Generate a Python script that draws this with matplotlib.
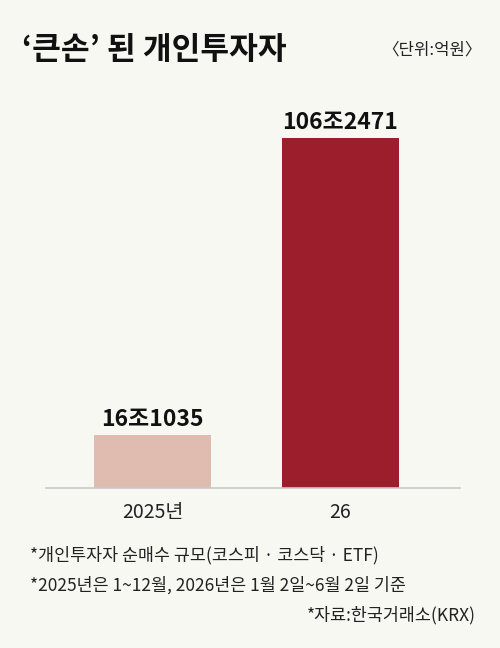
import matplotlib
matplotlib.use("Agg")
from matplotlib import pyplot as plt

plt.rcParams['font.family'] = ['Noto Sans CJK KR', 'DejaVu Sans']

categories = ["2025년", "26"]
values = [16.1035, 106.2471]          # 조원
value_labels = ["16조1035", "106조2471"]
colors = ["#e0bbaf", "#9c1d2b"]

title = "‘큰손’ 된 개인투자자"
unit = "〈단위:억원〉"
notes = [
    "*개인투자자 순매수 규모(코스피 · 코스닥 · ETF)",
    "*2025년은 1~12월, 2026년은 1월 2일~6월 2일 기준",
]
source = "*자료:한국거래소(KRX)"

bg = "#f8f8f3"


def main():
    fig = plt.figure(figsize=(5, 6.48), dpi=100, facecolor=bg)
    ax = fig.add_axes([0.092, 0.2469, 0.828, 0.540])
    ax.set_facecolor(bg)

    x = list(range(len(categories)))
    ax.bar(x, values, width=0.622, color=colors)
    ax.set_xlim(-0.566, 1.636)
    ax.set_ylim(0, max(values))

    for xi, v, lab in zip(x, values, value_labels):
        ax.annotate(lab, (xi, v), xytext=(0, 3), textcoords="offset points",
                    ha="center", va="bottom", fontsize=16.5, fontweight="bold",
                    color="#111111")

    for s in ["top", "right", "left"]:
        ax.spines[s].set_visible(False)
    ax.spines["bottom"].set_color("#c8c8c8")
    ax.spines["bottom"].set_linewidth(1.2)
    ax.set_yticks([])
    ax.set_xticks(x)
    ax.set_xticklabels(categories, fontsize=14, color="#222222")
    ax.tick_params(axis="x", length=0, pad=10)
    for p in ax.patches:
        p.set_clip_on(False)

    fig.text(0.044, 0.923, title, fontsize=22.5, fontweight="bold",
             ha="left", va="center", color="#111111")
    fig.text(0.964, 0.923, unit, fontsize=12, ha="right", va="center",
             color="#222222")
    fig.text(0.06, 0.1435, notes[0], fontsize=12.5, ha="left", va="center",
             color="#222222")
    fig.text(0.06, 0.0972, notes[1], fontsize=12.5, ha="left", va="center",
             color="#222222")
    fig.text(0.952, 0.051, source, fontsize=12.5, ha="right", va="center",
             color="#222222")

    fig.savefig("out.png", dpi=100, facecolor=bg)


if __name__ == '__main__':
    main()
